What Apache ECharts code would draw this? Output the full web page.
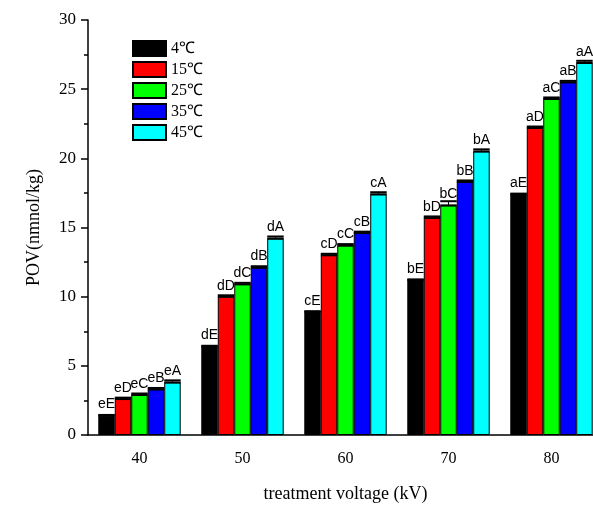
<!DOCTYPE html>
<html>
<head>
<meta charset="utf-8">
<title>POV</title>
<style>
html,body { height:100%; width:100%; margin:0; padding:0; background:#fff; }
</style>
<script src="https://cdn.jsdelivr.net/npm/echarts@6/dist/echarts.min.js"></script>
</head>
<body>
<div id="chart" style="width:593px;height:505px;"></div>
<script type="text/javascript">
var categories = ['40', '50', '60', '70', '80'];
var seriesNames = ['4℃', '15℃', '25℃', '35℃', '45℃'];
var colors = ['#000000', '#ff0000', '#00ff00', '#0000ff', '#00ffff'];

// values, one array per temperature
var v4 = [1.4, 6.4, 8.9, 11.2, 17.4];
var v15 = [2.6, 10.0, 13.0, 15.7, 22.2];
var v25 = [2.9, 10.9, 13.7, 16.6, 24.3];
var v35 = [3.3, 12.1, 14.6, 18.3, 25.5];
var v45 = [3.8, 14.2, 17.4, 20.5, 26.9];
// error bar sizes (small)
var e4 = [0.05, 0.05, 0.05, 0.05, 0.05];
var e15 = [0.1, 0.1, 0.1, 0.1, 0.1];
var e25 = [0.1, 0.1, 0.1, 0.3, 0.1];
var e35 = [0.1, 0.1, 0.1, 0.1, 0.1];
var e45 = [0.15, 0.15, 0.15, 0.15, 0.15];
// significance letters
var l4 = ['eE', 'dE', 'cE', 'bE', 'aE'];
var l15 = ['eD', 'dD', 'cD', 'bD', 'aD'];
var l25 = ['eC', 'dC', 'cC', 'bC', 'aC'];
var l35 = ['eB', 'dB', 'cB', 'bB', 'aB'];
var l45 = ['eA', 'dA', 'cA', 'bA', 'aA'];

var values = [v4, v15, v25, v35, v45];
var errs = [e4, e15, e25, e35, e45];
var letters = [l4, l15, l25, l35, l45];

var serif = "'Times New Roman', 'Liberation Serif', serif";
var sans = "Arial, 'Liberation Sans', sans-serif";

var myChart = echarts.init(document.getElementById('chart'));

// draws the small error bar on top of each bar
function capRender(si) {
	return function (params, api) {
		var base = api.coord([api.value(0), api.value(1)]);
		var top = api.coord([api.value(0), api.value(1) + api.value(2)]);
		var catW = api.size([1, 0])[0];
		var bw = catW * 0.8 / 5;
		var cx = base[0] + (si - 2) * bw;
		var style = { stroke: '#000', lineWidth: 2 };
		return {
			type: 'group',
			children: [
				{ type: 'line', shape: { x1: cx - bw / 2, y1: base[1], x2: cx + bw / 2, y2: base[1] }, style: style },
				{ type: 'line', shape: { x1: cx, y1: base[1], x2: cx, y2: top[1] }, style: { stroke: '#000', lineWidth: 1 } },
				{ type: 'line', shape: { x1: cx - bw / 2, y1: top[1], x2: cx + bw / 2, y2: top[1] }, style: style }
			]
		};
	};
}

var series = [];
for (var i = 0; i < 5; i++) {
	(function (si) {
		series.push({
			name: seriesNames[si],
			type: 'bar',
			barGap: '0%',
			barCategoryGap: '20%',
			data: values[si],
			itemStyle: { color: colors[si], borderColor: '#000', borderWidth: 1 },
			label: {
				show: true,
				position: 'top',
				distance: 4,
				color: '#000',
				fontFamily: sans,
				fontSize: 14,
				formatter: function (p) { return letters[si][p.dataIndex]; }
			},
			z: 2
		});
	})(i);
}
for (var j = 0; j < 5; j++) {
	var capData = [];
	for (var k = 0; k < categories.length; k++) {
		capData.push([k, values[j][k], errs[j][k]]);
	}
	series.push({
		type: 'custom',
		renderItem: capRender(j),
		data: capData,
		encode: { x: 0, y: 1 },
		silent: true,
		z: 3
	});
}

var option = {
	animation: false,
	grid: { left: 88, width: 515, top: 20, bottom: 70, outerBoundsMode: 'none' },
	legend: {
		data: seriesNames,
		orient: 'vertical',
		left: 127,
		top: 35,
		itemWidth: 33,
		itemHeight: 15,
		itemGap: 4,
		icon: 'rect',
		textStyle: { fontFamily: serif, fontSize: 16, color: '#000' }
	},
	xAxis: [{
		type: 'category',
		data: categories,
		name: 'treatment voltage (kV)',
		nameLocation: 'middle',
		nameGap: 50,
		nameTextStyle: { fontFamily: serif, fontSize: 18, color: '#000' },
		axisLine: { lineStyle: { color: '#000', width: 1.5 } },
		axisTick: { alignWithLabel: true, length: 6, lineStyle: { color: '#000', width: 1.5 } },
		axisLabel: { fontFamily: serif, fontSize: 16, color: '#000', margin: 16 }
	}, {
		type: 'category',
		data: categories,
		position: 'bottom',
		axisLine: { show: false },
		axisTick: { length: 3, lineStyle: { color: '#000', width: 1.5 } },
		axisLabel: { show: false }
	}],
	yAxis: {
		type: 'value',
		min: 0,
		max: 30,
		interval: 5,
		name: 'POV(nmnol/kg)',
		nameLocation: 'middle',
		nameGap: 45,
		nameTextStyle: { fontFamily: serif, fontSize: 18, color: '#000' },
		axisLine: { show: true, lineStyle: { color: '#000', width: 1.5 } },
		axisTick: { show: true, length: 7, lineStyle: { color: '#000', width: 1.5 } },
		minorTick: { show: true, splitNumber: 2, length: 4, lineStyle: { color: '#000', width: 1.5 } },
		splitLine: { show: false },
		axisLabel: { fontFamily: serif, fontSize: 17, color: '#000', margin: 12 }
	},
	series: series
};
myChart.setOption(option);
</script>
</body>
</html>
